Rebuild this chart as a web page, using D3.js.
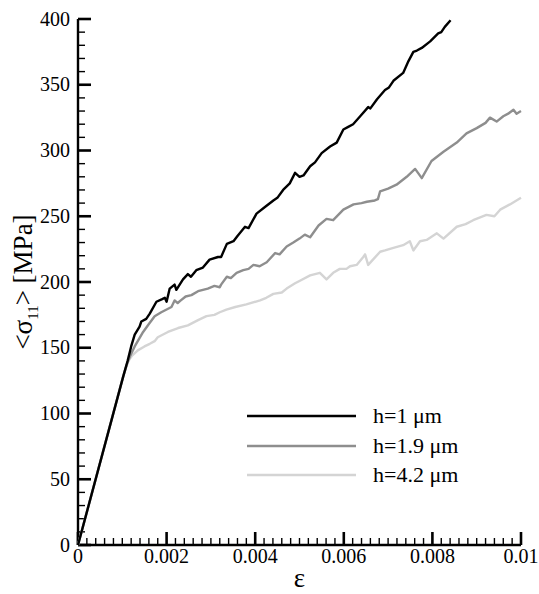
<!DOCTYPE html>
<html>
<head>
<meta charset="utf-8">
<script src="https://cdn.jsdelivr.net/npm/d3@7"></script>
<style>
  body { margin: 0; background: #fff; }
</style>
</head>
<body>
<div id="chart"></div>
<script>
// strain values in units of 1e-3, stress in MPa
const seriesNames = ['h=1 \u03bcm', 'h=1.9 \u03bcm', 'h=4.2 \u03bcm']
const seriesColors = ['#000000', '#8e8e8e', '#d4d4d4']

const h1 = [
  [0, 0], [1.02, 128], [1.12, 140], [1.2, 151], [1.28, 160], [1.39, 166], [1.43, 170], [1.54, 172], [1.62, 176],
  [1.77, 185], [1.9, 187], [1.96, 188], [2.0, 185], [2.07, 195], [2.18, 198], [2.22, 194], [2.37, 202],
  [2.48, 206], [2.55, 204], [2.67, 209], [2.82, 211], [2.97, 217], [3.16, 219], [3.23, 219], [3.36, 229],
  [3.51, 231], [3.6, 235], [3.77, 242], [3.85, 241], [4.03, 252], [4.22, 257], [4.41, 262], [4.5, 264],
  [4.63, 270], [4.78, 275], [4.9, 283], [5.0, 280], [5.09, 281], [5.24, 288], [5.35, 291], [5.5, 298],
  [5.69, 303], [5.84, 306], [5.99, 316], [6.1, 318], [6.21, 320], [6.37, 326], [6.55, 333], [6.6, 332],
  [6.75, 339], [6.93, 346], [7.02, 348], [7.12, 353], [7.34, 359], [7.46, 368], [7.57, 375], [7.65, 376],
  [7.76, 378], [7.95, 383], [8.13, 389], [8.2, 390], [8.28, 394], [8.41, 399]
]
const h19 = [
  [0, 0], [1.02, 128], [1.1, 137], [1.18, 144], [1.28, 151], [1.47, 162], [1.6, 168], [1.73, 174], [1.88, 177],
  [2.11, 181], [2.18, 186], [2.25, 184], [2.32, 186], [2.43, 189], [2.56, 190], [2.71, 193], [2.93, 195],
  [3.08, 197], [3.2, 196], [3.23, 198], [3.36, 204], [3.45, 203], [3.58, 207], [3.73, 209], [3.85, 210],
  [3.96, 213], [4.1, 212], [4.26, 215], [4.45, 222], [4.55, 221], [4.71, 227], [4.86, 230], [5.0, 233],
  [5.12, 236], [5.24, 234], [5.43, 243], [5.61, 248], [5.76, 247], [5.99, 255], [6.22, 259], [6.4, 260],
  [6.52, 261], [6.7, 262], [6.77, 263], [6.82, 269], [7.0, 271], [7.19, 274], [7.42, 280], [7.61, 286],
  [7.76, 279], [7.98, 292], [8.25, 299], [8.55, 306], [8.77, 313], [9.0, 317], [9.2, 321], [9.3, 325],
  [9.45, 322], [9.6, 326], [9.71, 328], [9.83, 331], [9.9, 328], [10.0, 330]
]
const h42 = [
  [0, 0], [1.0, 126], [1.07, 134], [1.14, 140], [1.22, 144], [1.35, 148], [1.5, 151], [1.62, 153], [1.73, 155],
  [1.8, 158], [2.03, 162], [2.26, 165], [2.48, 167], [2.71, 171], [2.9, 174], [3.08, 175], [3.2, 177],
  [3.35, 179], [3.55, 181], [3.8, 183], [4.11, 186], [4.25, 188], [4.41, 191], [4.6, 192], [4.71, 195],
  [4.9, 199], [5.01, 201], [5.24, 205], [5.46, 207], [5.61, 202], [5.76, 207], [5.91, 210], [6.06, 210],
  [6.14, 212], [6.29, 213], [6.44, 219], [6.48, 221], [6.55, 213], [6.82, 223], [6.93, 224], [7.12, 226],
  [7.34, 228], [7.49, 231], [7.57, 224], [7.72, 231], [7.87, 232], [8.1, 237], [8.25, 233], [8.55, 242],
  [8.75, 244], [8.92, 247], [9.22, 251], [9.4, 250], [9.53, 255], [9.75, 259], [10.0, 264]
]
const seriesData = [h1, h19, h42]

const xTicks = [0, 0.002, 0.004, 0.006, 0.008, 0.01]
const xTickLabels = ['0', '0.002', '0.004', '0.006', '0.008', '0.01']
const yTicks = [0, 50, 100, 150, 200, 250, 300, 350, 400]

const width = 539
const height = 594
const margin = { top: 19, right: 18, bottom: 49, left: 78 }
const serif = '"Liberation Serif"'

const svg = d3.select('#chart').append('svg')
  .attr('width', width)
  .attr('height', height)
  .attr('font-family', serif)

const x = d3.scaleLinear().domain([0, 0.01]).range([margin.left, width - margin.right])
const y = d3.scaleLinear().domain([0, 400]).range([height - margin.bottom, margin.top])

const x0 = x(0)
const yBase = y(0)

// minor ticks, 4 between majors
const xMinor = d3.range(0, 51).map(i => i * 0.0002).filter((v, i) => i % 10 !== 0)
const yMinor = d3.range(0, 41).map(i => i * 10).filter(v => v % 50 !== 0)

const axisG = svg.append('g').attr('class', 'axes')

axisG.selectAll('line.xminor').data(xMinor).enter().append('line')
  .attr('x1', d => x(d)).attr('x2', d => x(d))
  .attr('y1', yBase).attr('y2', yBase - 7)
  .attr('stroke', '#000').attr('stroke-width', 1.4)

axisG.selectAll('line.xmajor').data(xTicks).enter().append('line')
  .attr('x1', d => x(d)).attr('x2', d => x(d))
  .attr('y1', yBase).attr('y2', yBase - 13)
  .attr('stroke', '#000').attr('stroke-width', 2.6)

axisG.selectAll('line.yminor').data(yMinor).enter().append('line')
  .attr('x1', x0).attr('x2', x0 + 7)
  .attr('y1', d => y(d)).attr('y2', d => y(d))
  .attr('stroke', '#000').attr('stroke-width', 1.4)

axisG.selectAll('line.ymajor').data(yTicks).enter().append('line')
  .attr('x1', x0).attr('x2', x0 + 13)
  .attr('y1', d => y(d)).attr('y2', d => y(d))
  .attr('stroke', '#000').attr('stroke-width', 2.6)

// axis lines
axisG.append('line')
  .attr('x1', x0).attr('x2', x(0.01))
  .attr('y1', yBase).attr('y2', yBase)
  .attr('stroke', '#000').attr('stroke-width', 2.4)
axisG.append('line')
  .attr('x1', x0).attr('x2', x0)
  .attr('y1', yBase).attr('y2', y(400))
  .attr('stroke', '#000').attr('stroke-width', 2.4)

// tick labels
axisG.selectAll('text.xlab').data(xTicks).enter().append('text')
  .attr('x', d => x(d)).attr('y', yBase + 18)
  .attr('text-anchor', 'middle')
  .attr('font-family', serif)
  .attr('font-size', 20)
  .text((d, i) => xTickLabels[i])

axisG.selectAll('text.ylab').data(yTicks).enter().append('text')
  .attr('x', x0 - 8).attr('y', d => y(d))
  .attr('dy', '0.33em')
  .attr('text-anchor', 'end')
  .attr('font-family', serif)
  .attr('font-size', 20)
  .text(d => d)

// axis titles
svg.append('text')
  .attr('x', (x(0) + x(0.01)) / 2).attr('y', yBase + 42)
  .attr('text-anchor', 'middle')
  .attr('font-family', serif)
  .attr('font-size', 27)
  .text('\u03b5')

const yTitle = svg.append('text')
  .attr('transform', `translate(32, ${(y(0) + y(400)) / 2}) rotate(-90)`)
  .attr('text-anchor', 'middle')
  .attr('font-family', serif)
  .attr('font-size', 27)
yTitle.append('tspan').text('<\u03c3')
yTitle.append('tspan').attr('font-size', 15).attr('dy', 6).text('11')
yTitle.append('tspan').attr('dy', -6).text('> [MPa]')

// curves, lightest first so black sits on top
const line = d3.line()
  .x(d => x(d[0] / 1000))
  .y(d => y(d[1]))

svg.append('g').selectAll('path').data(seriesData.slice().reverse()).enter().append('path')
  .attr('d', line)
  .attr('fill', 'none')
  .attr('stroke', (d, i) => seriesColors[2 - i])
  .attr('stroke-width', 2.4)
  .attr('stroke-linejoin', 'round')

// legend
const legend = svg.append('g').attr('class', 'legend')
const legendY = [416, 446, 475]
seriesNames.forEach((name, i) => {
  legend.append('line')
    .attr('x1', 247).attr('x2', 356)
    .attr('y1', legendY[i]).attr('y2', legendY[i])
    .attr('stroke', seriesColors[i])
    .attr('stroke-width', 2.4)
  legend.append('text')
    .attr('x', 373).attr('y', legendY[i])
    .attr('dy', '0.33em')
    .attr('font-family', serif)
    .attr('font-size', 22)
    .text(name)
})
</script>
</body>
</html>
